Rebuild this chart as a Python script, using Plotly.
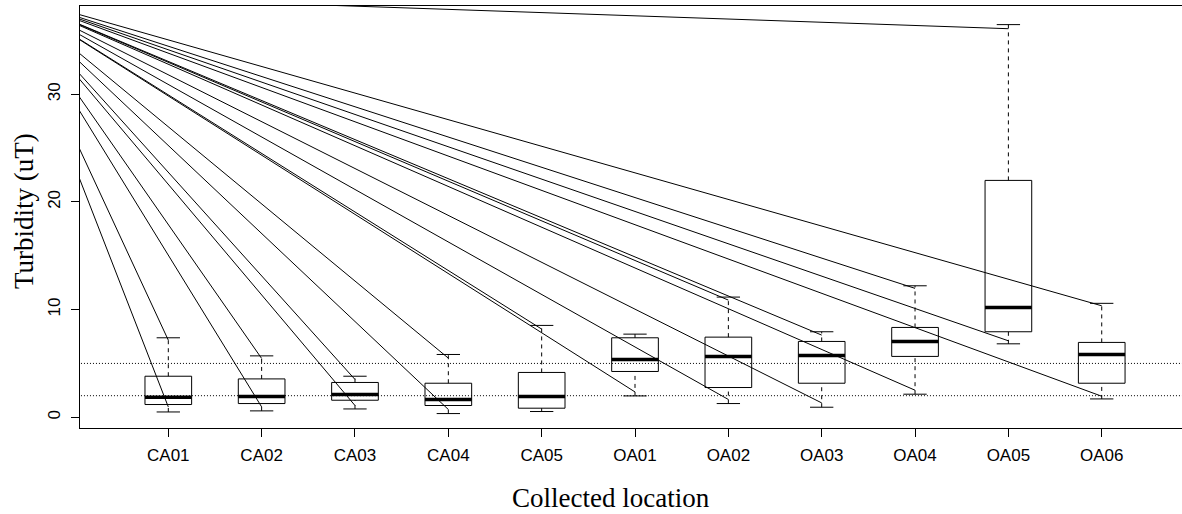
import plotly.graph_objects as go

# ---- data ----
categories = ["CA01", "CA02", "CA03", "CA04", "CA05",
              "OA01", "OA02", "OA03", "OA04", "OA05", "OA06"]
lower_whisker = [0.49, 0.59, 0.77, 0.34, 0.53, 1.98, 1.27, 0.93, 2.14, 6.82, 1.70]
q1_values     = [1.18, 1.27, 1.58, 1.09, 0.84, 4.25, 2.76, 3.16, 5.65, 7.94, 3.16]
median_values = [1.86, 1.92, 2.11, 1.65, 1.92, 5.37, 5.65, 5.74, 7.04, 10.2, 5.83]
q3_values     = [3.81, 3.56, 3.23, 3.16, 4.16, 7.38, 7.44, 7.04, 8.34, 22.0, 6.95]
upper_whisker = [7.38, 5.70, 3.81, 5.83, 8.53, 7.72, 11.16, 7.94, 12.21, 36.47, 10.58]

# end values of the straight lines drawn from a common origin (None = no line)
line_end_upper = [7.16, 5.46, 3.51, 5.49, 8.19, None, 10.88, 7.63, 11.97, 36.09, 10.35]
line_end_lower = [0.96, 0.96, 1.09, 0.72, None, 2.35, 1.65, 1.33, 2.51, 7.10, 1.95]
line_origin_x = -0.72
line_origin_y = 39.3

reference_levels = [2, 5]
y_tick_values = [0, 10, 20, 30]

# ---- style ----
BOX_HALF = 0.25
CAP_HALF = 0.125
BLACK = "black"

fig = go.Figure()

def seg(xs, ys, width=1, dash="solid"):
    fig.add_trace(go.Scatter(x=xs, y=ys, mode="lines",
                             line=dict(color=BLACK, width=width, dash=dash),
                             hoverinfo="skip", showlegend=False))

# reference dotted lines
for lvl in reference_levels:
    seg([0, 13], [lvl, lvl], width=1, dash="1px,2px")

# boxes
for i, cat in enumerate(categories):
    xc = i + 1
    lo, a, m, b, hi = lower_whisker[i], q1_values[i], median_values[i], q3_values[i], upper_whisker[i]
    seg([xc, xc], [b, hi], dash="4px,4px")
    seg([xc, xc], [lo, a], dash="4px,4px")
    seg([xc - CAP_HALF, xc + CAP_HALF], [hi, hi])
    seg([xc - CAP_HALF, xc + CAP_HALF], [lo, lo])
    seg([xc - BOX_HALF, xc + BOX_HALF, xc + BOX_HALF, xc - BOX_HALF, xc - BOX_HALF],
        [a, a, b, b, a])
    seg([xc - BOX_HALF, xc + BOX_HALF], [m, m], width=3.5)

# lines from common origin
for i in range(len(categories)):
    xc = i + 1
    for end in (line_end_upper[i], line_end_lower[i]):
        if end is not None:
            seg([line_origin_x, xc], [line_origin_y, end])

tick_font = dict(family="Liberation Sans, Arial, sans-serif", size=17, color=BLACK)
title_font = dict(family="Liberation Serif, Times New Roman, serif", size=27, color=BLACK)

fig.update_layout(
    width=1182, height=514,
    margin=dict(l=80, r=0, t=6, b=86),
    paper_bgcolor="white", plot_bgcolor="white",
    showlegend=False,
    xaxis=dict(range=[0.054, 11.86], tickmode="array",
               tickvals=list(range(1, len(categories) + 1)), ticktext=categories,
               showgrid=False, zeroline=False, showline=True, mirror=True,
               linecolor=BLACK, linewidth=1, ticks="outside", ticklen=8,
               tickcolor=BLACK, tickwidth=1, tickfont=tick_font,
               ticklabelstandoff=4),
    yaxis=dict(range=[-1.0, 38.2], tickmode="array", tickvals=y_tick_values,
               ticktext=[str(v) for v in y_tick_values],
               showgrid=False, zeroline=False, showline=True, mirror=False,
               linecolor=BLACK, linewidth=1, ticks="outside", ticklen=8,
               tickcolor=BLACK, tickwidth=1, tickfont=tick_font, tickangle=-90,
               ticklabelstandoff=4),
    annotations=[
        dict(text="Collected location", xref="paper", yref="paper",
             x=(611 - 80) / 1102, y=(428 - 498) / 422, xanchor="center",
             yanchor="middle", showarrow=False, font=title_font),
        dict(text="Turbidity (uT)", xref="paper", yref="paper",
             x=(24 - 80) / 1102, y=(428 - 211) / 422, xanchor="center",
             yanchor="middle", textangle=-90, showarrow=False, font=title_font),
    ],
)

fig.write_html("out.html",
               config={"displayModeBar": False},
               post_script="document.body.style.margin='0';document.body.style.overflow='hidden';")
